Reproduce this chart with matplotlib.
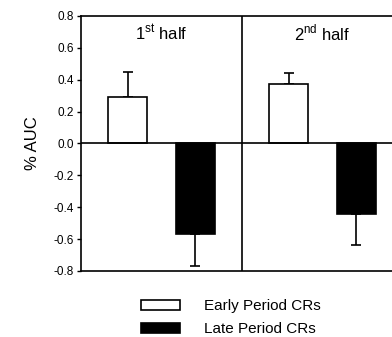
import matplotlib
matplotlib.use("Agg")
import matplotlib.pyplot as plt
from matplotlib.patches import Patch

plt.rcParams['font.family'] = ['Liberation Sans', 'DejaVu Sans']

# data
halves = ["1$^{\\mathregular{st}}$ half", "2$^{\\mathregular{nd}}$ half"]
early_mean = [0.29, 0.37]
early_err = [0.16, 0.07]
late_mean = [-0.57, -0.44]
late_err = [0.20, 0.20]
series_labels = ["Early Period CRs", "Late Period CRs"]
yticks = [-0.8, -0.6, -0.4, -0.2, 0.0, 0.2, 0.4, 0.6, 0.8]

fig = plt.figure(figsize=(3.92, 3.37), dpi=100)
ax = fig.add_axes([0.2066, 0.196, 0.8214, 0.7567])

width = 0.24
for i in range(len(halves)):
    ax.bar(i + 0.29, early_mean[i], width, color="white", edgecolor="black",
           linewidth=1.2, zorder=2)
    ax.errorbar(i + 0.29, early_mean[i], yerr=[[0], [early_err[i]]], fmt="none",
                ecolor="black", elinewidth=1.2, capsize=3.5, capthick=1.2, zorder=1)
    ax.bar(i + 0.71, late_mean[i], width, color="black", edgecolor="black",
           linewidth=1.2, zorder=2)
    ax.errorbar(i + 0.71, late_mean[i], yerr=[[late_err[i]], [0]], fmt="none",
                ecolor="black", elinewidth=1.2, capsize=3.5, capthick=1.2, zorder=1)
    ax.text(i + 0.5, 0.69, halves[i], ha="center", va="center", fontsize=12)

ax.axhline(0, color="black", lw=1.2, zorder=3)
ax.axvline(1, color="black", lw=1.2, zorder=3)

ax.set_xlim(0, 2)
ax.set_ylim(-0.8, 0.8)
ax.set_yticks(yticks)
ax.set_yticklabels(["%.1f" % v for v in yticks], fontsize=8.5)
ax.set_xticks([])
ax.tick_params(axis="y", length=3, width=1, direction="out", pad=2)
for s in ax.spines.values():
    s.set_linewidth(1.2)
ax.set_ylabel("% AUC", fontsize=12, labelpad=10)

handles = [Patch(facecolor="white", edgecolor="black", linewidth=1.2),
           Patch(facecolor="black", edgecolor="black", linewidth=1.2)]
fig.legend(handles, series_labels, loc="upper left", bbox_to_anchor=(0.345, 0.13),
           frameon=False, fontsize=11, handlelength=2.5, handleheight=0.7,
           handletextpad=1.6, labelspacing=0.6, borderaxespad=0)

fig.savefig("out.png", dpi=100)
